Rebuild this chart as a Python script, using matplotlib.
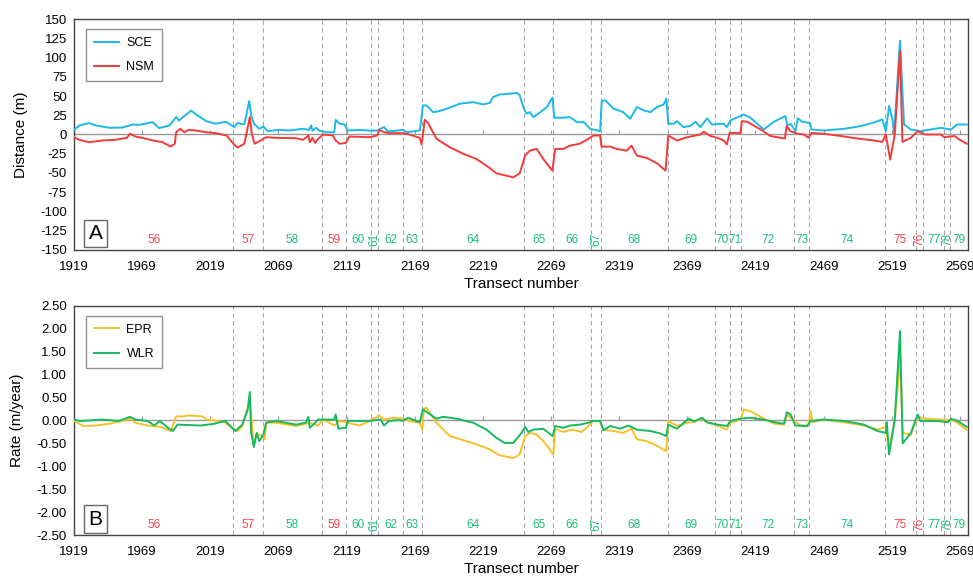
import matplotlib.pyplot as plt
import numpy as np

plt.rcParams['font.family'] = ['Liberation Sans', 'DejaVu Sans']

# transect positions of the section boundaries (dashed lines)
boundaries = [2036, 2057.5, 2101, 2118.5, 2137, 2142, 2160.5, 2174, 2249.5, 2270.5,
              2298.5, 2305.5, 2354.5, 2389.5, 2400, 2408.5, 2447.5, 2458.5, 2514,
              2536.5, 2542, 2557.5, 2562]
sections = ['56', '57', '58', '59', '60', '61', '62', '63', '64', '65', '66', '67',
            '68', '69', '70', '71', '72', '73', '74', '75', '76', '77', '78', '79']
section_colors = ['r', 'r', 'g', 'r', 'g', 'g', 'g', 'g', 'g', 'g', 'g', 'g',
                  'g', 'g', 'g', 'g', 'g', 'g', 'g', 'r', 'r', 'g', 'g', 'g']
rotated = ['61', '67', '76', '78']

x_min, x_max = 1919, 2575
x_ticks = [1919, 1969, 2019, 2069, 2119, 2169, 2219, 2269, 2319, 2369, 2419, 2469, 2519, 2569]

# ---------------- panel A : distances ----------------
sce_x = [1919, 1923, 1930, 1935, 1945, 1954.5, 1962, 1967, 1976.6, 1981.5, 1989, 1994, 1996,
         1999, 2005, 2009, 2016, 2023, 2030.5, 2036.6, 2039, 2044, 2047.6, 2049, 2051, 2055,
         2058, 2061, 2069.6, 2077, 2087, 2091.5, 2093, 2094, 2096.7, 2099, 2104, 2110, 2111,
         2114, 2117.5, 2120, 2128.5, 2136, 2141, 2146.5, 2149, 2152, 2160.4, 2163, 2172.7,
         2174, 2175, 2177.6, 2182.5, 2187.4, 2194.7, 2202, 2212, 2219, 2224, 2226.6, 2231.5,
         2239, 2244, 2246, 2248.6, 2251, 2253.5, 2256, 2259.7, 2266, 2270, 2271.4, 2278,
         2283, 2288, 2293, 2297.7, 2305, 2306.2, 2308.7, 2315, 2322, 2327, 2332, 2337, 2342,
         2346.7, 2351.6, 2353.6, 2355, 2359, 2361.4, 2366, 2371, 2375, 2378.6, 2383.5, 2387,
         2395.7, 2398, 2400.6, 2410.4, 2415.3, 2425, 2432.5, 2441, 2442.3, 2444.7, 2448.4,
         2450, 2453.3, 2459, 2460, 2469, 2484, 2496.2, 2504.8, 2512, 2514.6, 2517, 2519.5,
         2520.7, 2525, 2528, 2533, 2540.3, 2547.7, 2555, 2562.4, 2567, 2574]
sce_y = [6, 11.7, 14.8, 11.7, 8.7, 9, 13, 12.6, 16, 8.3, 11.7, 22.6, 18,
         22.6, 31, 25.7, 17.4, 14, 16.5, 9.6, 15, 13, 43.5, 24.8, 14, 7.4,
         10.4, 4.3, 6, 5.2, 7.4, 6, 11.7, 5, 8.7, 5, 3, 3, 19,
         14, 13, 5.2, 6, 5, 5, 9.6, 4.3, 4.3, 6, 3, 5.2,
         22.6, 37.8, 37.8, 29, 30.5, 34.8, 40, 42, 39, 41, 48.7, 52,
         53, 54, 51, 35.7, 27, 29, 22.6, 27, 35.7, 47.9, 21.8, 21.8,
         22.6, 16, 16, 7.4, 4.3, 43.5, 44.4, 33.5, 29, 20.4, 35.7, 31.3, 29,
         35.7, 39, 46.5, 14, 14, 17.4, 9.6, 11, 16.5, 9.6, 20.9, 13,
         14, 9.6, 18.3, 26, 21.7, 6.5, 16.5, 24, 10.9, 14, 4.3,
         21, 16.5, 15, 6.5, 5.2, 7.4, 10.9, 15, 19.6, 4.3, 37, 19.6,
         0, 121.7, 13, 6.5, 4.3, 6.5, 8.7, 6.5, 13, 13]

nsm_x = [1919, 1923, 1930, 1940, 1949, 1958, 1960, 1964, 1969, 1977, 1984, 1990, 1993, 1994,
         1997, 2000, 2003, 2009, 2016, 2023, 2031, 2035, 2039, 2044, 2046, 2048, 2049.5,
         2051.5, 2055, 2060, 2067, 2082, 2087, 2091, 2092, 2094, 2096, 2098, 2102, 2109,
         2111, 2114, 2118.5, 2121, 2136, 2141.5, 2143, 2146.5, 2150, 2160.4, 2165, 2172.7,
         2174, 2175, 2176.3, 2178.8, 2185, 2194.7, 2204.5, 2214.3, 2224, 2229, 2236.4,
         2241.3, 2246, 2250, 2253.5, 2258.5, 2263.3, 2270, 2272, 2278, 2283, 2290, 2297.7,
         2300, 2305, 2306, 2312.4, 2317, 2324.6, 2328, 2332, 2339.3, 2346.7, 2353, 2355,
         2361.4, 2369, 2378.6, 2381, 2386, 2391, 2395.7, 2398, 2400, 2408, 2409, 2413,
         2422.7, 2430, 2437.4, 2440.6, 2441.8, 2444.7, 2449.6, 2454.5, 2458, 2460, 2469,
         2481.5, 2493.8, 2506, 2512, 2514.6, 2517.8, 2521.2, 2525, 2526.8, 2533, 2538, 2543,
         2555, 2557.5, 2565, 2568.5, 2574]
nsm_y = [-3.5, -7, -10, -7.8, -7, -4.3, 1, -2.6, -4.3, -7.8, -10, -15.7, -12, 3,
         7.4, 3, 6, 5, 3, 1.7, -1.3, -10, -17, -12, 5, 22.6, 1,
         -12, -8.7, -3.5, -4.3, -4.8, -7, -1.3, -10, -4.3, -11, -5.7, 0, -1.3,
         -7.8, -12, -11, -2.6, -3.5, -1.3, 6, 3, 1.7, 1.7, 0, -4.3,
         -13, -1.3, 19, 14.8, -5.7, -16.5, -25, -31.8, -43.5, -50.5, -53.5,
         -55.7, -50.5, -27.4, -21, -18.7, -31.8, -47, -18.7, -18.7, -14.4, -12, -4.3,
         -1.3, -1.3, -15.7, -15.7, -18.7, -21, -14.4, -27.4, -30.5, -37.4, -47, -1.3,
         -7.8, -3.5, 0, 3.5, -2, -4.3, -7.8, -13, 2, 2, 17.4, 16.5,
         6.5, -2, -4.3, -5.2, 10.9, 4.3, 1, 0, -4.3, 2, 1,
         -2, -5.2, -7.8, -9.6, 0, -32.6, 0, 108.7, -9.6, -4.3, 4.3, 0,
         0, -3.5, -2, -6.5, -12]

# ---------------- panel B : rates ----------------
epr_x = [1919, 1926, 1935, 1945, 1954.5, 1960, 1964, 1973, 1983, 1990, 1994, 1999, 2003, 2013,
         2016.5, 2025, 2030, 2035, 2039, 2042.5, 2046.5, 2048, 2050, 2050.5, 2053, 2056.5,
         2059, 2060, 2067, 2082, 2092, 2098, 2102, 2110, 2114, 2118.5, 2128.5, 2136, 2143,
         2146.5, 2153, 2160.4, 2165, 2172.7, 2174.6, 2175.6, 2177.6, 2185, 2194.7, 2204.5,
         2214.3, 2224, 2231.5, 2241.3, 2246, 2250, 2253.5, 2258.5, 2264.6, 2270.7, 2272,
         2278, 2284, 2291.5, 2297.7, 2300, 2305, 2307, 2315, 2322, 2328, 2332, 2339, 2346.7,
         2353.5, 2355, 2361.4, 2369, 2374, 2379.8, 2383.5, 2391, 2398, 2400.6, 2408, 2410.4,
         2415.3, 2422.7, 2432.5, 2440, 2442.3, 2444.7, 2452, 2458, 2459.4, 2460.7, 2469,
         2484, 2498.6, 2508.5, 2514.6, 2517, 2521.2, 2524.4, 2525, 2527, 2533, 2538, 2543,
         2555, 2565, 2574]
epr_y = [-0.01, -0.12, -0.11, -0.07, -0.01, 0.04, -0.05, -0.11, -0.14, -0.23, 0.09, 0.09, 0.11, 0.09,
         0.02, -0.01, -0.05, -0.16, -0.23, -0.12, 0.28, 0.46, -0.2, -0.52, -0.31, -0.31,
         -0.41, -0.04, -0.05, -0.12, -0.05, -0.11, 0.02, -0.11, -0.01, -0.04, -0.11, -0.01, 0.11,
         0.02, 0.06, 0.04, -0.01, -0.05, -0.2, 0.25, 0.28, -0.05, -0.34, -0.43,
         -0.52, -0.63, -0.76, -0.82, -0.74, -0.34, -0.27, -0.31, -0.49, -0.74, -0.18,
         -0.25, -0.2, -0.25, -0.09, -0.01, -0.01, -0.2, -0.23, -0.27, -0.18, -0.41, -0.45, -0.55,
         -0.67, -0.01, -0.12, -0.05, -0.03, 0.04, -0.04, -0.11, -0.2, -0.05, 0.02, 0.24,
         0.2, 0.08, -0.07, -0.09, 0.13, 0.06, -0.11, -0.11, 0.2, -0.04, 0.02,
         -0.04, -0.11, -0.2, -0.14, -0.63, 0.02, 1.11, 1.4, -0.27, -0.31, 0.09, 0.04,
         0.02, -0.01, -0.2]

wlr_x = [1919, 1923, 1930, 1940, 1952, 1960, 1964, 1973, 1978, 1982, 1988, 1991.5, 1995, 2012,
         2022, 2030, 2037.5, 2042.5, 2046.5, 2048, 2049, 2051, 2053, 2055, 2058, 2060, 2067,
         2082, 2089, 2091, 2092, 2096, 2098, 2110, 2111, 2113, 2118.5, 2120, 2136, 2144,
         2146.5, 2150, 2158, 2160.4, 2164, 2172.7, 2175, 2185, 2189.8, 2199.6, 2212, 2221.7,
         2229, 2235, 2241.3, 2247.4, 2250, 2252.3, 2256, 2263.3, 2270.2, 2272, 2278, 2283,
         2290.3, 2297.7, 2299, 2305, 2307.5, 2312.4, 2319.7, 2325.8, 2332, 2341.8, 2349,
         2353.5, 2355, 2361.4, 2370, 2374, 2379.8, 2383.5, 2391, 2398, 2400.6, 2408, 2415.3,
         2425, 2435, 2440, 2442, 2444.7, 2448.4, 2457, 2459.4, 2469, 2484, 2498.6, 2508.5,
         2514.6, 2515.3, 2517, 2521.2, 2525, 2527, 2533, 2538, 2540, 2552.6, 2560, 2562.4,
         2567.3, 2574]
wlr_y = [0.02, -0.01, 0, 0.02, -0.01, 0.08, 0.02, -0.01, -0.11, -0.01, -0.16, -0.23, -0.09, -0.11,
         -0.07, -0.01, -0.23, -0.09, 0.24, 0.62, -0.27, -0.58, -0.27, -0.45, -0.31, -0.05, -0.01,
         -0.09, -0.05, 0.08, -0.16, -0.05, 0.02, 0.02, 0.13, -0.18, -0.16, -0.01, -0.01, 0.02,
         -0.11, -0.01, 0.01, -0.01, 0.06, -0.04, 0.24, 0.04, 0.08, 0.04, -0.05, -0.2,
         -0.38, -0.49, -0.49, -0.27, -0.14, -0.25, -0.2, -0.18, -0.34, -0.12, -0.16, -0.11,
         -0.09, -0.04, -0.01, -0.01, -0.21, -0.12, -0.18, -0.11, -0.2, -0.23, -0.28,
         -0.34, -0.09, -0.18, 0.04, -0.02, 0.06, -0.04, -0.09, -0.12, -0.01, 0.04, 0.06,
         0.02, -0.05, -0.07, 0.18, 0.13, -0.11, -0.12, -0.01, 0.02, -0.01, -0.09, -0.23,
         -0.27, -0.04, -0.74, 0.02, 1.95, -0.5, -0.27, 0.13, -0.01, -0.01, -0.04, 0.04,
         -0.01, -0.14]

RED = '#f2464f'
GREEN = '#1dbf78'
label_col = {'r': RED, 'g': GREEN}


def decorate(ax, ylim, yticks, yfmt, ylabel, letter):
    ax.set_xlim(x_min, x_max)
    ax.set_ylim(*ylim)
    ax.set_yticks(yticks)
    ax.set_yticklabels([yfmt.format(v) for v in yticks])
    ax.set_xticks(x_ticks)
    ax.tick_params(length=0, labelsize=9.5)
    ax.tick_params(axis='x', pad=8)
    ax.tick_params(axis='y', pad=5)
    ax.set_ylabel(ylabel, fontsize=11, labelpad=9)
    ax.set_xlabel('Transect number', fontsize=11, labelpad=3)
    for sp in ax.spines.values():
        sp.set_color('#444444')
        sp.set_linewidth(1.0)
    ax.axhline(0, color='#9a9a9a', lw=0.8, zorder=1)
    # small ticks along the zero line
    sec = ax.secondary_xaxis(0.5)
    sec.set_xticks(x_ticks)
    sec.set_xticklabels([])
    sec.tick_params(length=3, direction='out', color='#9a9a9a')
    sec.spines['bottom'].set_visible(False)
    for b in boundaries:
        ax.axvline(b, color='#a8a8a8', lw=0.8, linestyle=(0, (4, 3)), zorder=0)
    edges = [x_min] + boundaries + [x_max]
    for i, name in enumerate(sections):
        xc = (edges[i] + edges[i + 1]) / 2
        ax.text(xc, 0.045, name, transform=ax.get_xaxis_transform(),
                ha='center', va='center', fontsize=8.5, color=label_col[section_colors[i]],
                rotation=90 if name in rotated else 0)
    ax.text(0.024, 0.07, letter, transform=ax.transAxes, fontsize=15,
            ha='center', va='center',
            bbox=dict(boxstyle='square,pad=0.2', fc='white', ec='#666666', lw=1.0))
    leg = ax.legend(loc='upper left', bbox_to_anchor=(0.014, 0.955), fontsize=9,
                    frameon=True, fancybox=False, edgecolor='#777777',
                    handlelength=2.0, handletextpad=0.6, borderpad=0.6,
                    labelspacing=1.0, borderaxespad=0.0)
    leg.get_frame().set_linewidth(1.0)


fig = plt.figure(figsize=(9.73, 5.76), dpi=100)
ax1 = fig.add_axes([0.076, 0.566, 0.919, 0.401])
ax2 = fig.add_axes([0.076, 0.071, 0.919, 0.398])

ax1.plot(sce_x, sce_y, color='#1cb9e8', lw=1.4, label='SCE', zorder=3)
ax1.plot(nsm_x, nsm_y, color='#f23b3b', lw=1.4, label='NSM', zorder=4)
decorate(ax1, (-150, 150), list(range(150, -151, -25)), '{:d}', 'Distance (m)', 'A')

ax2.plot(epr_x, epr_y, color='#f7c12a', lw=1.4, label='EPR', zorder=3)
ax2.plot(wlr_x, wlr_y, color='#16b960', lw=1.4, label='WLR', zorder=4)
decorate(ax2, (-2.5, 2.5), list(np.arange(2.5, -2.51, -0.5)), '{:.2f}', 'Rate (m/year)', 'B')

fig.savefig('out.png', dpi=100)
